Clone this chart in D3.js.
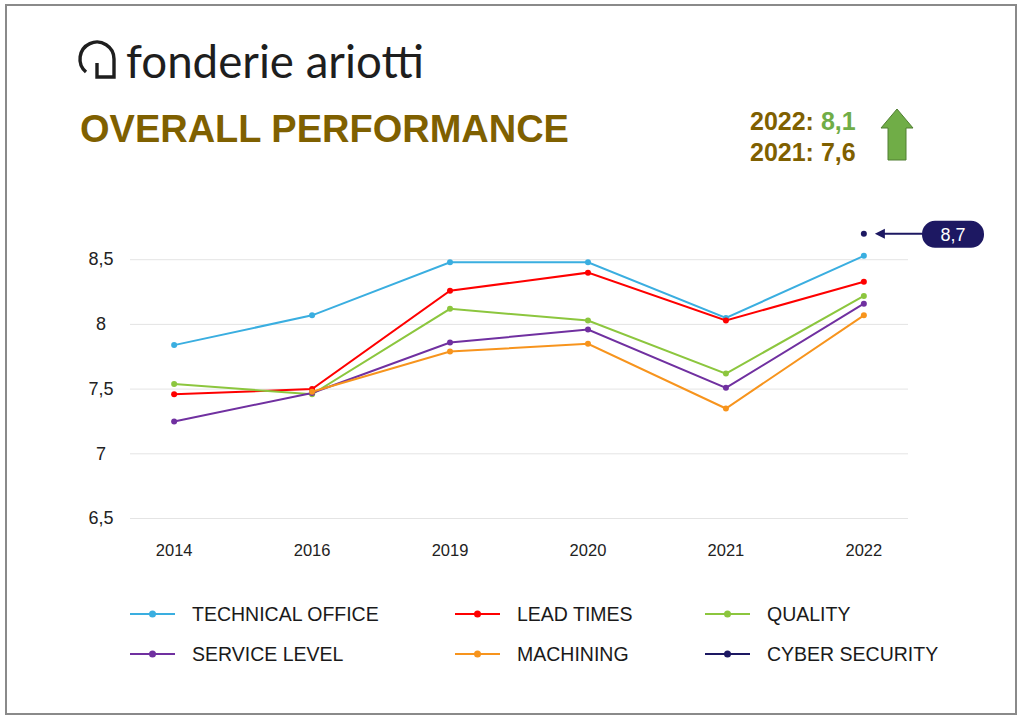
<!DOCTYPE html>
<html>
<head>
<meta charset="utf-8">
<script src="https://cdn.jsdelivr.net/npm/d3@7"></script>
<style>
  html, body { margin: 0; padding: 0; background: #fff; }
  svg { display: block; font-family: "Liberation Sans", Arial, sans-serif; }
</style>
</head>
<body>
<div id="chart"></div>
<script>
const years = ["2014", "2016", "2019", "2020", "2021", "2022"];
const technicalOffice = [7.84, 8.07, 8.48, 8.48, 8.05, 8.53];
const leadTimes = [7.46, 7.50, 8.26, 8.40, 8.03, 8.33];
const quality = [7.54, 7.46, 8.12, 8.03, 7.62, 8.22];
const serviceLevel = [7.25, 7.47, 7.86, 7.96, 7.51, 8.16];
const machining = [null, 7.48, 7.79, 7.85, 7.35, 8.07];
const cyberSecurity = [null, null, null, null, null, 8.7];
const yTicks = [6.5, 7, 7.5, 8, 8.5];
const headline = { year1: "2022", value1: "8,1", year2: "2021", value2: "7,6" };
const callout = "8,7";

const series = [
  { name: "TECHNICAL OFFICE", values: technicalOffice, color: "#3aaee0" },
  { name: "LEAD TIMES", values: leadTimes, color: "#fe0000" },
  { name: "QUALITY", values: quality, color: "#8cc63e" },
  { name: "SERVICE LEVEL", values: serviceLevel, color: "#7030a0" },
  { name: "MACHINING", values: machining, color: "#f7941d" },
  { name: "CYBER SECURITY", values: cyberSecurity, color: "#1d1862" }
];

const width = 1024, height = 719;
const svg = d3.select("#chart").append("svg").attr("width", width).attr("height", height);

// page frame
svg.append("rect").attr("x", 6).attr("y", 5).attr("width", 1010).attr("height", 709)
  .attr("fill", "none").attr("stroke", "#8a8a8a").attr("stroke-width", 2);

// logo
svg.append("path")
  .attr("d", "M86,72 A17,17 0 1 1 114,59 L114,77 L97,77 L97,63")
  .attr("fill", "none").attr("stroke", "#1e1e1e").attr("stroke-width", 3.4);
const logo = svg.append("text").attr("x", 126).attr("y", 78)
  .attr("font-family", "Lato, 'Open Sans', sans-serif")
  .attr("font-size", 40).attr("fill", "#1e1e1e").text("fonderie ariotti");

function fitWidth(sel, target) {
  const w = sel.node().getComputedTextLength();
  const fs = +sel.attr("font-size");
  sel.attr("font-size", fs * target / w);
}
fitWidth(logo, 298);

const title = svg.append("text").attr("x", 80).attr("y", 142)
  .attr("font-size", 43).attr("font-weight", "bold").attr("fill", "#7f6000")
  .text("OVERALL PERFORMANCE");
fitWidth(title, 489);

// headline values
const h1 = svg.append("text").attr("x", 750).attr("y", 130)
  .attr("font-size", 25).attr("font-weight", "bold").attr("fill", "#7f6000");
h1.append("tspan").text(headline.year1 + ": ");
h1.append("tspan").attr("fill", "#70ad47").text(headline.value1);
svg.append("text").attr("x", 750).attr("y", 161)
  .attr("font-size", 25).attr("font-weight", "bold").attr("fill", "#7f6000")
  .text(headline.year2 + ": " + headline.value2);

svg.append("path")
  .attr("d", "M897,109 L913,128 L906,128 L906,160 L888,160 L888,128 L881,128 Z")
  .attr("fill", "#70ad47").attr("stroke", "#507e32").attr("stroke-width", 1);

// scales
const x = d3.scalePoint().domain(years).range([130, 908]).padding(0.32);
const y = d3.scaleLinear().domain([6.5, 9]).range([518.5, 195]);

// grid
svg.append("g").selectAll("line").data(yTicks).join("line")
  .attr("x1", 130).attr("x2", 908)
  .attr("y1", d => y(d)).attr("y2", d => y(d))
  .attr("stroke", "#e4e4e4").attr("stroke-width", 1);

const fmt = d => String(d).replace(".", ",");
svg.append("g").selectAll("text").data(yTicks).join("text")
  .attr("x", 101).attr("y", d => y(d) + 1)
  .attr("text-anchor", "middle").attr("dominant-baseline", "middle")
  .attr("font-size", 18).attr("fill", "#222").text(fmt);

svg.append("g").selectAll("text").data(years).join("text")
  .attr("x", d => x(d)).attr("y", 556)
  .attr("text-anchor", "middle").attr("font-size", 16.5).attr("fill", "#222").text(d => d);

// lines
const line = d3.line()
  .defined(d => d.v != null)
  .x(d => x(d.year)).y(d => y(d.v));

series.forEach(s => {
  const pts = years.map((yr, i) => ({ year: yr, v: s.values[i] }));
  svg.append("path").datum(pts)
    .attr("d", line).attr("fill", "none")
    .attr("stroke", s.color).attr("stroke-width", 2);
  svg.append("g").selectAll("circle").data(pts.filter(p => p.v != null)).join("circle")
    .attr("cx", d => x(d.year)).attr("cy", d => y(d.v)).attr("r", 3)
    .attr("fill", s.color);
});

// callout for cyber security
const cyberX = x("2022"), cyberY = y(cyberSecurity[5]);
svg.append("line").attr("x1", 922).attr("x2", cyberX + 16)
  .attr("y1", cyberY).attr("y2", cyberY)
  .attr("stroke", "#1d1862").attr("stroke-width", 2);
svg.append("path")
  .attr("d", `M${cyberX + 11},${cyberY} L${cyberX + 21},${cyberY - 5} L${cyberX + 21},${cyberY + 5} Z`)
  .attr("fill", "#1d1862");
svg.append("rect").attr("x", 922).attr("y", cyberY - 13).attr("width", 62).attr("height", 27)
  .attr("rx", 13).attr("fill", "#1d1862");
svg.append("text").attr("x", 953).attr("y", cyberY + 7)
  .attr("text-anchor", "middle").attr("font-size", 18).attr("fill", "#fff").text(callout);

// legend
const legendCols = [130, 455, 705];
const legendRows = [614, 654];
const legend = svg.append("g").selectAll("g").data(series).join("g")
  .attr("transform", (d, i) => `translate(${legendCols[i % 3]},${legendRows[Math.floor(i / 3)]})`);
legend.append("line").attr("x1", 0).attr("x2", 45).attr("y1", 0).attr("y2", 0)
  .attr("stroke", d => d.color).attr("stroke-width", 2);
legend.append("circle").attr("cx", 22.5).attr("cy", 0).attr("r", 3.5).attr("fill", d => d.color);
legend.append("text").attr("x", 62).attr("y", 7)
  .attr("font-size", 19.5).attr("fill", "#1a1a1a").text(d => d.name);
</script>
</body>
</html>
